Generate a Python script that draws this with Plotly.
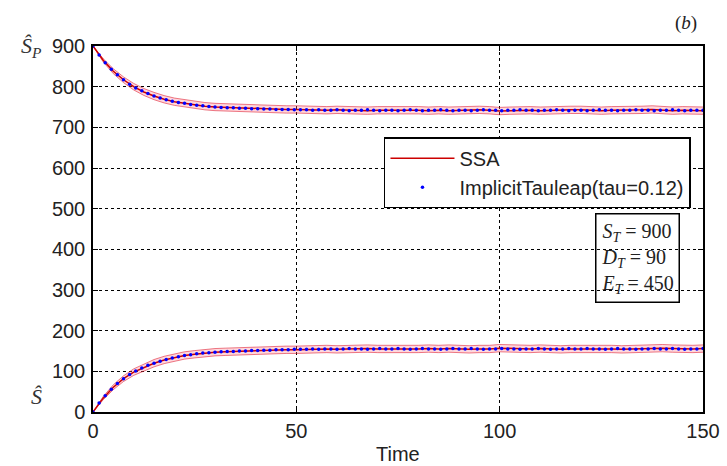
import plotly.graph_objects as go

# ImplicitTauleap points (t = 0, 1.5, ..., 150)
t_dots = [i * 1.5 for i in range(101)]
sp_dots = [900, 878, 859, 843, 829, 817, 806, 797, 790, 783, 777, 772, 768, 764, 761, 759, 756, 754, 753, 751, 750,
           749, 748, 748, 747, 747, 746, 746, 745, 745, 744,
           744, 744, 743, 743, 743, 742, 743, 742, 742, 743,
           742, 741, 742, 742, 743, 742, 741, 742, 742, 741,
           742, 743, 742, 741, 742, 742, 743, 742, 741, 742,
           742, 741, 742, 743, 742, 742, 741, 742, 742, 743,
           742, 742, 741, 742, 742, 743, 742, 741, 742, 742,
           741, 742, 743, 742, 742, 741, 742, 742, 743, 742,
           742, 741, 742, 742, 743, 742, 741, 742, 742, 742]
s_dots = [0, 22, 40, 56, 70, 82, 92, 101, 108, 115, 120, 125, 129, 133, 136, 139, 141, 143, 145, 146, 147,
          148, 149, 149, 150, 150, 151, 151, 152, 152, 153,
          153, 153, 154, 154, 154, 155, 154, 155, 155, 154,
          155, 156, 155, 155, 154, 155, 156, 155, 155, 156,
          155, 154, 155, 156, 155, 155, 154, 155, 156, 155,
          155, 156, 155, 154, 155, 155, 156, 155, 155, 154,
          155, 155, 156, 155, 154, 155, 155, 156, 155, 155,
          156, 155, 155, 154, 155, 156, 155, 155, 154, 155,
          155, 156, 155, 155, 156, 155, 154, 155, 155, 156]

# SSA mean and spread (t = 0, 2.5, ..., 150)
t_ssa = [i * 2.5 for i in range(61)]
sp_ssa = [900, 865, 838, 817, 800, 787, 777, 769, 763, 759, 755, 752, 750,
          749, 748, 747, 746, 745, 745, 744, 744, 743, 743,
          742, 743, 742, 742, 741, 742, 742, 743, 742, 742,
          741, 742, 741, 742, 742, 743, 742, 740, 741, 742,
          742, 741, 742, 742, 743, 743, 742, 741, 742, 742,
          743, 743, 744, 742, 741, 742, 742, 741]
s_ssa = [0, 34, 61, 82, 98, 110, 120, 128, 134, 139, 142, 145, 147,
         148, 149, 150, 151, 152, 152, 153, 153, 154, 154,
         155, 154, 155, 155, 156, 155, 155, 154, 155, 155,
         156, 155, 156, 155, 154, 155, 155, 157, 156, 155,
         155, 156, 155, 154, 155, 155, 156, 155, 155, 154,
         155, 155, 156, 157, 156, 155, 155, 156]
ssa_sd = [0, 4, 6, 7, 8, 8.5, 9, 9, 9, 9, 9, 9, 9,
          9, 9, 9, 9, 9, 9, 9, 9, 9, 9,
          9, 9, 9, 9, 9, 9, 9, 9, 9, 9,
          9, 9, 9, 9, 9, 9, 9, 9, 9, 9,
          9, 9, 9, 9, 9, 9, 9, 9, 9, 9,
          9, 9, 9, 9, 9, 9, 9, 9]

x_ticks = [0, 50, 100, 150]
y_ticks = [0, 100, 200, 300, 400, 500, 600, 700, 800, 900]

RED = "#cc0000"
BAND = "rgba(255,110,130,0.28)"
EDGE = "rgba(220,20,40,0.55)"
SANS = "Liberation Sans"
SERIF = "Liberation Serif"

fig = go.Figure()

for mean in (sp_ssa, s_ssa):
    upper = [m + d for m, d in zip(mean, ssa_sd)]
    lower = [m - d for m, d in zip(mean, ssa_sd)]
    fig.add_trace(go.Scatter(x=t_ssa, y=upper, mode="lines", line=dict(color=EDGE, width=1),
                             showlegend=False, hoverinfo="skip"))
    fig.add_trace(go.Scatter(x=t_ssa, y=lower, mode="lines", line=dict(color=EDGE, width=1),
                             fill="tonexty", fillcolor=BAND, showlegend=False, hoverinfo="skip"))

fig.add_trace(go.Scatter(x=t_ssa, y=sp_ssa, mode="lines", line=dict(color=RED, width=1.5),
                         name="SSA", legendgroup="ssa"))
fig.add_trace(go.Scatter(x=t_ssa, y=s_ssa, mode="lines", line=dict(color=RED, width=1.5),
                         name="SSA", legendgroup="ssa", showlegend=False))

fig.add_trace(go.Scatter(x=t_dots, y=sp_dots, mode="markers", marker=dict(color="#0000ff", size=3.5),
                         name="ImplicitTauleap(tau=0.12)", legendgroup="it"))
fig.add_trace(go.Scatter(x=t_dots, y=s_dots, mode="markers", marker=dict(color="#0000ff", size=3.5),
                         name="ImplicitTauleap(tau=0.12)", legendgroup="it", showlegend=False))

axis_common = dict(showline=True, linecolor="black", linewidth=1.5, mirror="allticks",
                   ticks="inside", ticklen=5, tickcolor="black", showgrid=True,
                   gridcolor="black", gridwidth=1, griddash="dot", zeroline=False,
                   automargin=False,
                   tickfont=dict(family=SANS, size=20, color="#222"))

fig.update_xaxes(range=[0, 150], tickvals=x_ticks, **axis_common)
fig.update_yaxes(range=[0, 900], tickvals=y_ticks, ticklabelstandoff=2, **axis_common)

EQ = "&#8197;=&#8197;"

fig.update_layout(
    width=727, height=466,
    margin=dict(l=93, r=24, t=46, b=54, autoexpand=False),
    plot_bgcolor="white", paper_bgcolor="white",
    legend=dict(x=0.477, y=0.751, xanchor="left", yanchor="top",
                bgcolor="white", bordercolor="black", borderwidth=1.5,
                font=dict(family=SANS, size=20, color="#222"),
                itemwidth=64, tracegroupgap=0),
    annotations=[
        dict(text="Time", x=398, y=454, showarrow=False,
             font=dict(family=SANS, size=20, color="#222")),
        dict(text="<i>Ŝ</i><sub><i>P</i></sub>", x=31, y=47, showarrow=False,
             font=dict(family=SERIF, size=22, color="#333")),
        dict(text="<i>Ŝ</i>", x=36, y=396, showarrow=False,
             font=dict(family=SERIF, size=22, color="#333")),
        dict(text="(<i>b</i>)", x=686, y=23, showarrow=False,
             font=dict(family=SERIF, size=19, color="#222")),
        dict(text=f"<i>S</i><sub><i>T</i></sub>{EQ}900<br><i>D</i><sub><i>T</i></sub>{EQ}90<br><i>E</i><sub><i>T</i></sub>{EQ}450",
             x=637, y=258, showarrow=False, align="left", bgcolor="rgba(0,0,0,0)",
             bordercolor="black", borderwidth=1.5, borderpad=5,
             font=dict(family=SERIF, size=20, color="#222")),
    ],
)

# convert pixel-positioned annotations to paper coords (centre-anchored)
W, H = 727, 466
for a in fig.layout.annotations:
    px, py = a.x, a.y
    a.xref = "paper"
    a.yref = "paper"
    a.xanchor = "center"
    a.yanchor = "middle"
    a.x = (px - 93) / (W - 93 - 24)
    a.y = (H - 54 - py) / (H - 46 - 54)

fig.write_html("out.html")
